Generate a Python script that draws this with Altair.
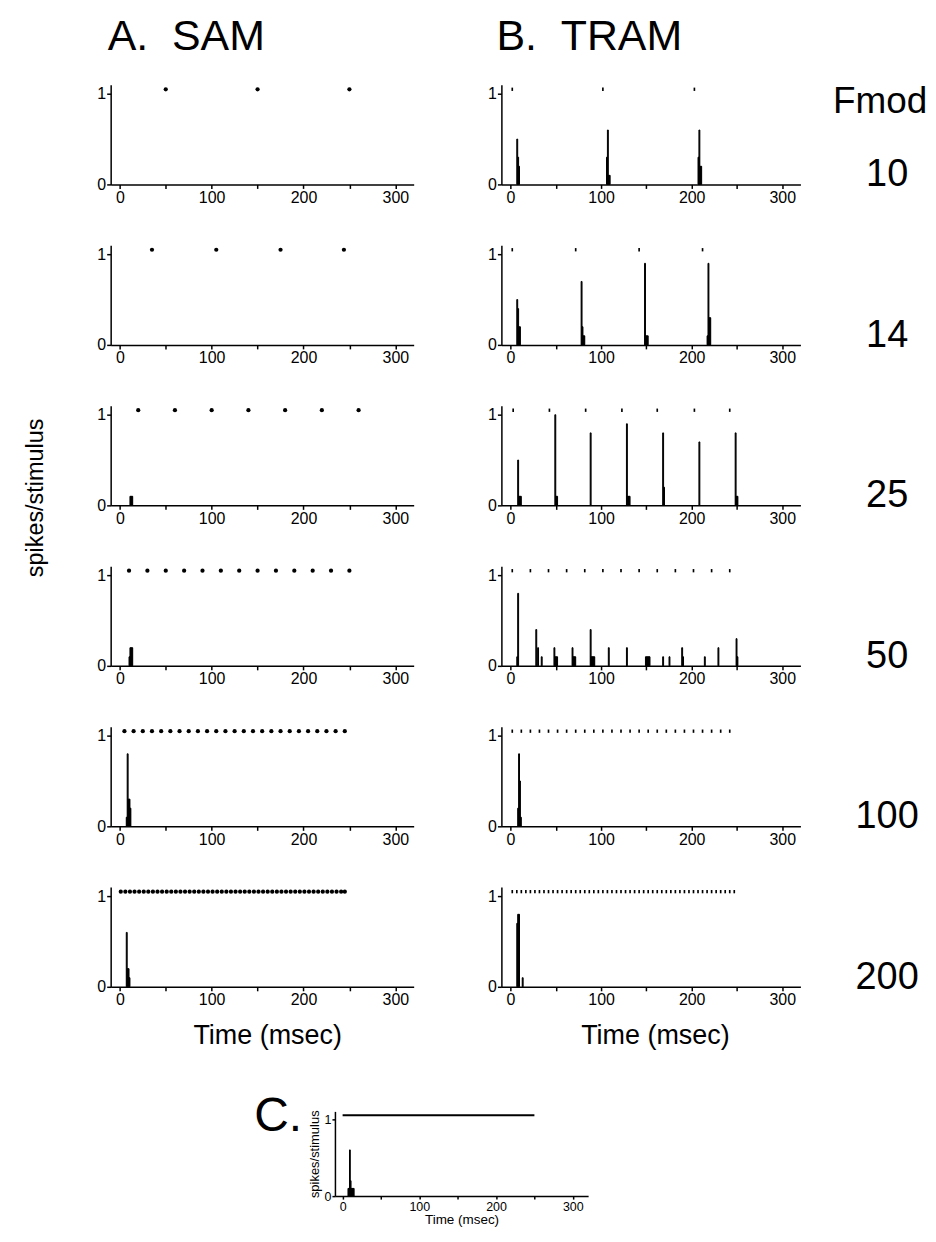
import altair as alt
import pandas as pd

FONT = "Liberation Sans"

# ---------------- values ----------------
DOT_LEVEL = 1.05          # level at which stimulus-cycle markers are drawn
BIN_WIDTH = 1             # histogram bin width (ms)
X_DOMAIN = [-10, 320]
Y_DOMAIN = [0, 1.1]
X_TICKS = [0, 50, 100, 150, 200, 250, 300]
Y_TICKS = [0, 1]

HEADER_A = "A.\u00a0\u00a0SAM"
HEADER_B = "B.\u00a0\u00a0TRAM"
FMOD_TITLE = "Fmod"
FMOD_LABELS = ["10", "14", "25", "50", "100", "200"]
X_TITLE = "Time (msec)"
Y_TITLE = "spikes/stimulus"
PANEL_C_LABEL = "C."

# SAM: stimulus-cycle markers (ms)
SAM10_DOTS = [50, 150, 250]
SAM14_DOTS = [35, 105, 175, 244]
SAM25_DOTS = [20, 60, 100, 140, 180, 220, 260]
SAM50_DOTS = [10, 30, 50, 70, 90, 110, 130, 150, 170, 190, 210, 230, 250]
SAM100_DOTS = [5, 15, 25, 35, 45, 55, 65, 75, 85, 95, 105, 115, 125, 135, 145,
               155, 165, 175, 185, 195, 205, 215, 225, 235, 245]
SAM200_DOTS = [1, 6, 11, 16, 21, 26, 31, 36, 41, 46, 51, 56, 61, 66, 71, 76, 81,
               86, 91, 96, 101, 106, 111, 116, 121, 126, 131, 136, 141, 146, 151,
               156, 161, 166, 171, 176, 181, 186, 191, 196, 201, 206, 211, 216,
               221, 226, 231, 236, 241, 245]

# TRAM: stimulus-cycle markers (ms)
TRAM10_DOTS = [2, 102, 203]
TRAM14_DOTS = [2, 72, 142, 212]
TRAM25_DOTS = [3, 43, 83, 123, 162, 203, 242]
TRAM50_DOTS = [2, 22, 42, 62, 82, 102, 122, 142, 162, 182, 202, 222, 242]
TRAM100_DOTS = [2, 12, 22, 32, 42, 52, 62, 72, 82, 92, 102, 112, 122, 132, 142,
                152, 162, 172, 182, 192, 202, 212, 222, 232, 242]
TRAM200_DOTS = [2, 7, 12, 17, 22, 27, 32, 37, 42, 47, 52, 57, 62, 67, 72, 77, 82,
                87, 92, 97, 102, 107, 112, 117, 122, 127, 132, 137, 142, 147, 152,
                157, 162, 167, 172, 177, 182, 187, 192, 197, 202, 207, 212, 217,
                222, 227, 232, 237, 242, 247]

# SAM histograms: bin start (ms) and spikes/stimulus
SAM10_BIN_T, SAM10_BIN_H = [], []
SAM14_BIN_T, SAM14_BIN_H = [], []
SAM25_BIN_T = [11, 12, 13]
SAM25_BIN_H = [0.1, 0.1, 0.1]
SAM50_BIN_T = [10, 11, 12, 13]
SAM50_BIN_H = [0.1, 0.2, 0.2, 0.2]
SAM100_BIN_T = [7, 8, 9, 10, 11]
SAM100_BIN_H = [0.1, 0.8, 0.3, 0.3, 0.2]
SAM200_BIN_T = [7, 8, 9, 10]
SAM200_BIN_H = [0.6, 0.2, 0.2, 0.1]

# TRAM histograms
TRAM10_BIN_T = [7, 8, 9, 106, 107, 108, 109, 207, 208, 209, 210]
TRAM10_BIN_H = [0.5, 0.3, 0.2, 0.3, 0.6, 0.1, 0.1, 0.3, 0.6, 0.2, 0.2]
TRAM14_BIN_T = [7, 8, 9, 10, 78, 79, 80, 81, 148, 149, 150, 151, 217, 218, 219, 220]
TRAM14_BIN_H = [0.5, 0.4, 0.2, 0.2, 0.7, 0.2, 0.1, 0.1, 0.9, 0.1, 0.1, 0.1,
                0.1, 0.9, 0.3, 0.3]
TRAM25_BIN_T = [8, 9, 10, 11, 49, 50, 51, 88, 128, 129, 130, 131, 168, 169, 208,
                248, 249, 250]
TRAM25_BIN_H = [0.5, 0.1, 0.1, 0.1, 1.0, 0.1, 0.1, 0.8, 0.9, 0.1, 0.1, 0.1, 0.8,
                0.2, 0.7, 0.8, 0.1, 0.1]
TRAM50_BIN_T = [7, 8, 28, 30, 34, 48, 49, 50, 51, 68, 69, 70, 71, 88, 89, 90, 91,
                92, 108, 128, 149, 150, 151, 152, 153, 168, 175, 189, 190, 214,
                229, 249, 250]
TRAM50_BIN_H = [0.1, 0.8, 0.4, 0.2, 0.1, 0.2, 0.1, 0.1, 0.1, 0.2, 0.1, 0.1, 0.1,
                0.4, 0.1, 0.1, 0.1, 0.1, 0.2, 0.2, 0.1, 0.1, 0.1, 0.1, 0.1, 0.1,
                0.1, 0.2, 0.1, 0.1, 0.2, 0.3, 0.1]
TRAM100_BIN_T = [8, 9, 10, 11]
TRAM100_BIN_H = [0.2, 0.8, 0.5, 0.1]
TRAM200_BIN_T = [7, 8, 9, 13]
TRAM200_BIN_H = [0.7, 0.8, 0.8, 0.1]

# Panel C
C_LINE_T = [0, 250]
C_BIN_T = [7, 8, 9, 10, 11, 12, 13, 14]
C_BIN_H = [0.1, 0.1, 0.6, 0.2, 0.1, 0.1, 0.1, 0.1]

SAM_DOTS = [SAM10_DOTS, SAM14_DOTS, SAM25_DOTS, SAM50_DOTS, SAM100_DOTS, SAM200_DOTS]
TRAM_DOTS = [TRAM10_DOTS, TRAM14_DOTS, TRAM25_DOTS, TRAM50_DOTS, TRAM100_DOTS, TRAM200_DOTS]
SAM_BINS = [(SAM10_BIN_T, SAM10_BIN_H), (SAM14_BIN_T, SAM14_BIN_H),
            (SAM25_BIN_T, SAM25_BIN_H), (SAM50_BIN_T, SAM50_BIN_H),
            (SAM100_BIN_T, SAM100_BIN_H), (SAM200_BIN_T, SAM200_BIN_H)]
TRAM_BINS = [(TRAM10_BIN_T, TRAM10_BIN_H), (TRAM14_BIN_T, TRAM14_BIN_H),
             (TRAM25_BIN_T, TRAM25_BIN_H), (TRAM50_BIN_T, TRAM50_BIN_H),
             (TRAM100_BIN_T, TRAM100_BIN_H), (TRAM200_BIN_T, TRAM200_BIN_H)]

# ---------------- layout (pixels) ----------------
PW_A, PW_B, PH = 304, 300, 100
GAP_AB = 88
ROW_GAP = 61
LAB_W = 30
CW, CH = 254, 85
C_TEXT_W = 215
C_GAP = 10
TRAM_SHAPE = "M-0.5,-1H0.5V1H-0.5Z"


def bins_df(ts, hs):
    return pd.DataFrame({"t": [float(t) for t in ts],
                         "t2": [float(t) + BIN_WIDTH for t in ts],
                         "h": [float(h) for h in hs],
                         "h0": [0.0] * len(ts)})


def dots_df(ts):
    return pd.DataFrame({"t": [float(t) for t in ts], "y": [DOT_LEVEL] * len(ts)})


def axes(small, x_title, y_title, x_title_x, y_title_pos):
    lab = 12.5 if small else 16
    tick = 3 if small else 4
    common = dict(labelFont=FONT, labelFontSize=lab, labelColor="black",
                  domainColor="black", tickColor="black", domainWidth=1.5,
                  tickWidth=1.5, tickSize=tick, labelPadding=1, grid=False,
                  titleFont=FONT, titleColor="black", titleFontWeight="normal")
    xa = dict(common, values=X_TICKS,
              labelExpr="datum.value % 100 === 0 ? datum.label : ''")
    ya = dict(common, values=Y_TICKS, format="d")
    if x_title:
        xa.update(titleFontSize=13.5 if small else 27,
                  titlePadding=0 if small else 15)
        if x_title_x is not None:
            xa.update(titleX=x_title_x)
    if y_title:
        ya.update(titleFontSize=13 if small else 23.5,
                  titlePadding=3 if small else 8)
        if y_title_pos is not None:
            ya.update(titleX=y_title_pos[0], titleY=y_title_pos[1],
                      titleBaseline="middle")
    return alt.Axis(**xa), alt.Axis(**ya)


def panel(dots, bin_t, bin_h, kind, width, height, x_title=None, y_title=None,
          header=None, header_dx=-3, small=False, x_title_x=None,
          y_title_pos=None, line=None):
    xa, ya = axes(small, x_title, y_title, x_title_x, y_title_pos)
    xs = alt.Scale(domain=X_DOMAIN, nice=False, zero=False)
    ys = alt.Scale(domain=Y_DOMAIN, nice=False)
    xenc = alt.X("t:Q", scale=xs, axis=xa, title=x_title)
    bars = alt.Chart(bins_df(bin_t, bin_h)).mark_rect(
        color="black", stroke="black", strokeWidth=1).encode(
        x=xenc, x2="t2:Q",
        y=alt.Y("h:Q", scale=ys, axis=ya, title=y_title),
        y2="h0:Q",
    )
    layers = [bars]
    if line is not None:
        ln = alt.Chart(dots_df(line)).mark_line(color="black", strokeWidth=2).encode(
            x=xenc, y=alt.Y("y:Q", scale=ys, axis=ya, title=y_title))
        layers.append(ln)
    else:
        if kind == "sam":
            pts = alt.Chart(dots_df(dots)).mark_point(
                filled=True, shape="circle", size=18, color="black", opacity=1)
        else:
            pts = alt.Chart(dots_df(dots)).mark_point(
                filled=True, shape=TRAM_SHAPE, size=11, color="black", opacity=1)
        pts = pts.encode(x=xenc, y=alt.Y("y:Q", scale=ys, axis=ya, title=y_title))
        layers.append(pts)
    ch = alt.layer(*layers).properties(width=width, height=height)
    if header:
        ch = ch.properties(title=alt.TitleParams(
            header, anchor="start", font=FONT, fontSize=43, fontWeight="normal",
            color="black", offset=-8, baseline="alphabetic", dx=header_dx,
            frame="group"))
    return ch


def label_chart(texts_and_y, width, height, size, align="center"):
    layers = []
    for txt, xpx, ypx in texts_and_y:
        layers.append(alt.Chart(pd.DataFrame({"label": [txt]})).mark_text(
            font=FONT, fontSize=size, color="black", align=align,
            baseline="middle").encode(text="label:N", x=alt.value(xpx), y=alt.value(ypx)))
    return alt.layer(*layers).properties(width=width, height=height)


cells = []
for i in range(6):
    a = panel(SAM_DOTS[i], SAM_BINS[i][0], SAM_BINS[i][1], "sam", PW_A, PH,
              x_title=X_TITLE if i == 5 else None,
              y_title=Y_TITLE if i == 2 else None,
              header=HEADER_A if i == 0 else None,
              x_title_x=157 if i == 5 else None,
              y_title_pos=(-75, 92) if i == 2 else None)
    b = panel(TRAM_DOTS[i], TRAM_BINS[i][0], TRAM_BINS[i][1], "tram", PW_B, PH,
              x_title=X_TITLE if i == 5 else None,
              header=HEADER_B if i == 0 else None, header_dx=-5,
              x_title_x=154 if i == 5 else None)
    lab = label_chart([(FMOD_LABELS[i], -1, 91)], LAB_W, PH, 38)
    if i == 0:
        lab = alt.layer(label_chart([(FMOD_TITLE, -8, 17)], LAB_W, PH, 37), lab)
    cells += [a, b, lab]

grid = alt.concat(*cells, columns=3, spacing={"row": ROW_GAP, "column": GAP_AB},
                  bounds="flush", align="each")

c_text = label_chart([(PANEL_C_LABEL, 192, 6)], C_TEXT_W, CH, 48, align="right")
c_panel = panel([], C_BIN_T, C_BIN_H, "sam", CW, CH, x_title=X_TITLE,
                y_title=Y_TITLE, small=True, line=C_LINE_T)
row_c = alt.hconcat(c_text, c_panel, spacing=C_GAP, bounds="flush")

chart = alt.vconcat(grid, row_c, spacing=45).properties(
    padding={"left": 15, "top": 6, "right": 0, "bottom": 0}
).configure(font=FONT).configure_view(stroke=None)

chart.save("out.html", embed_options={"renderer": "svg", "actions": False})
